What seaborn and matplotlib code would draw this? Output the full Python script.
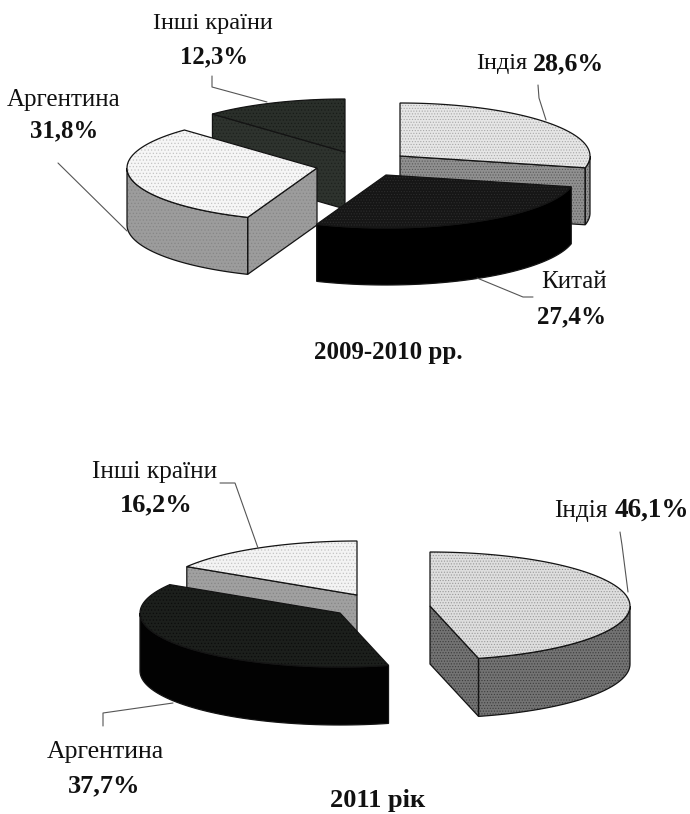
# coding: utf-8
import numpy as np
import seaborn as sns
import matplotlib.pyplot as plt
from matplotlib.patches import Polygon

# shares per year, clockwise from 12 o'clock
names_top = ['Індія', 'Китай', 'Аргентина', 'Інші країни']
shares_top = [28.6, 27.4, 31.8, 12.3]
title_top = '2009-2010 рр.'

names_bottom = ['Індія', 'Аргентина', 'Інші країни']
shares_bottom = [46.1, 37.7, 16.2]
title_bottom = '2011 рік'

sns.set_theme(style='white')
plt.rcParams['font.family'] = ['Liberation Serif', 'DejaVu Serif']
plt.rcParams['hatch.linewidth'] = 0.5

fig = plt.figure(figsize=(6.9, 8.14), dpi=100)
ax = fig.add_axes([0, 0, 1, 1])
ax.set_xlim(0, 690)
ax.set_ylim(814, 0)
sns.despine(ax=ax, left=True, bottom=True)
ax.set_xticks([])
ax.set_yticks([])


def point(c, a, rx, ry):
	return np.array([c[0] + rx * np.sin(a), c[1] - ry * np.cos(a)])


def face(pts, color, hatch_color, hatch, z):
	ax.add_patch(Polygon(pts, closed=True, facecolor=color, edgecolor=hatch_color, hatch=hatch, lw=0, zorder=z))
	ax.add_patch(Polygon(pts, closed=True, fill=False, edgecolor='#141414', lw=0.9, zorder=z + 0.1))


def wedge(c, start, stop, rx, ry, depth, top, side, z):
	a0, a1 = np.radians(start), np.radians(stop)
	mid = point((0, 0), (a0 + a1) / 2, rx, ry)
	drop = np.array([0, depth])
	c = np.array(c, dtype=float)

	# flat walls, only those that look down at the viewer
	for a in [a0, a1]:
		p = point(c, a, rx, ry)
		d = p - c
		n = np.array([-d[1], d[0]])
		if n @ mid > 0:
			n = -n
		if n[1] > 1e-6:
			face([c, p, p + drop, c + drop], side[0], side[1], side[2], z)

	# rim
	lo, hi = max(a0, np.pi / 2), min(a1, 1.5 * np.pi)
	if hi > lo:
		arc = np.array([point(c, a, rx, ry) for a in np.linspace(lo, hi, 60)])
		face(np.vstack([arc, arc[::-1] + drop]), side[0], side[1], side[2], z)

	arc = np.array([point(c, a, rx, ry) for a in np.linspace(a0, a1, 80)])
	face(np.vstack([[c], arc]), top[0], top[1], top[2], z + 0.2)


def pie(shares, centers, order, rx, ry, depth, tops, sides):
	edges = np.concatenate([[0], np.cumsum(shares)]) / np.sum(shares) * 360
	for z, i in enumerate(order):
		wedge(centers[i], edges[i], edges[i + 1], rx, ry, depth, tops[i], sides[i], 2 + z)


pie(shares_top,
	[(400, 156), (386, 175), (317, 168), (345, 152)],
	[3, 0, 2, 1], 190, 53, 57,
	[('#e6e6e6', '#a8a8a8', '......'), ('#161616', '#2c2c2c', '......'),
	 ('#f6f6f6', '#c4c4c4', '.....'), ('#2a2f2a', '#181c18', '.....')],
	[('#909090', '#5a5a5a', '......'), ('#000000', '#000000', None),
	 ('#9c9c9c', '#868686', '.....'), ('#2e332e', '#1e221e', '.....')])

pie(shares_bottom,
	[(430, 606), (340, 613), (357, 595)],
	[2, 1, 0], 200, 54, 58,
	[('#dedede', '#999999', '......'), ('#1c1f1c', '#0c0c0c', '.....'), ('#f3f3f3', '#c4c4c4', '.....')],
	[('#737373', '#3c3c3c', '......'), ('#020202', '#020202', None), ('#a0a0a0', '#868686', '.....')])

leaders = [
	[(212, 76), (212, 87), (267, 102)],
	[(58, 163), (127, 231)],
	[(538, 85), (539, 98), (546, 120)],
	[(477, 278), (523, 297), (533, 297)],
	[(220, 483), (235, 483), (258, 548)],
	[(173, 703), (103, 713), (103, 726)],
	[(620, 532), (622, 545), (628, 592)],
]
for line in leaders:
	xs, ys = zip(*line)
	ax.plot(xs, ys, color='#555555', lw=0.8, zorder=20)


def pct(v):
	return '{:.1f}%'.format(v).replace('.', ',')


def label(x, y, s, bold=False, size=17.5, ha='center'):
	ax.text(x, y, s, ha=ha, va='center', fontsize=size, color='#111111',
		fontweight='bold' if bold else 'normal', zorder=30)


label(213, 23, names_top[3])
label(214, 57, pct(shares_top[3]), True, 17.8)
label(64, 100, names_top[2], size=18)
label(64, 131, pct(shares_top[2]), True, 17.8)
label(527, 64, names_top[0], ha='right')
label(533, 64, pct(shares_top[0]), True, 18.5, ha='left')
label(574, 282, names_top[1], size=18)
label(572, 317, pct(shares_top[1]), True, 18)
label(388, 352, title_top, True, 18)

label(155, 472, names_bottom[2], size=18.3)
label(156, 505, pct(shares_bottom[2]), True, 19)
label(608, 511, names_bottom[0], ha='right', size=18.3)
label(615, 510, pct(shares_bottom[0]), True, 19.5, ha='left')
label(105, 752, names_bottom[1], size=18.5)
label(104, 786, pct(shares_bottom[1]), True, 19)
label(378, 800, title_bottom, True, 19)

fig.savefig('out.png', dpi=100)
